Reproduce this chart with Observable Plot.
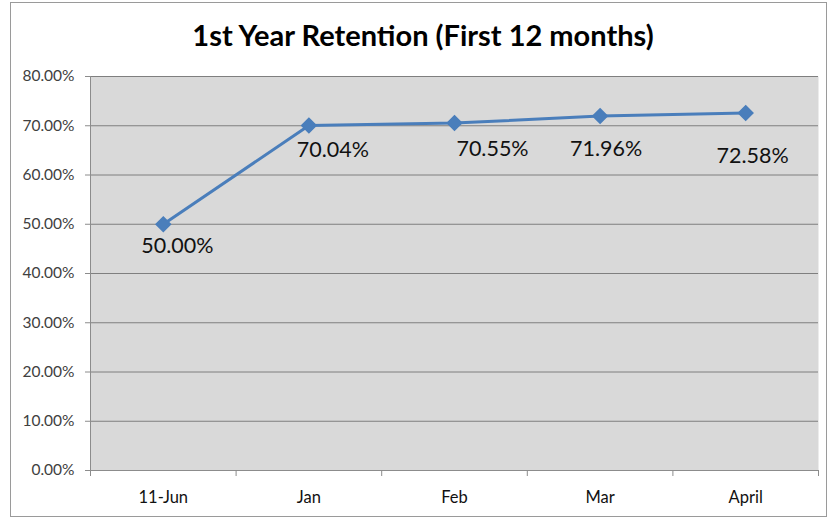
<!DOCTYPE html>
<html>
<head>
<meta charset="utf-8">
<script src="https://cdn.jsdelivr.net/npm/d3@7"></script>
<script src="https://cdn.jsdelivr.net/npm/@observablehq/plot@0.6"></script>
<style>
  body { margin: 0; background: #fff; }
  #wrap { position: relative; width: 830px; height: 520px; overflow: hidden; }
  #frame { position: absolute; left: 10px; top: 2px; width: 817px; height: 515px; border: 1px solid #9a9a9a; box-sizing: border-box; }
  #title { position: absolute; left: 0; width: 846px; top: 17px; text-align: center; font-family: Lato, sans-serif; font-weight: bold; font-size: 29px; color: #000; }
  #chart { position: absolute; left: 0; top: 0; }
</style>
</head>
<body>
<div id="wrap">
  <div id="frame"></div>
  <div id="title">1st Year Retention (First 12 months)</div>
  <div id="chart"></div>
</div>
<script>
const categories = ["11-Jun", "Jan", "Feb", "Mar", "April"];
const retention = [0.5000, 0.7004, 0.7055, 0.7196, 0.7258];
const labels = ["50.00%", "70.04%", "70.55%", "71.96%", "72.58%"];
const yTicks = [0, 0.1, 0.2, 0.3, 0.4, 0.5, 0.6, 0.7, 0.8];

const data = categories.map((c, i) => ({ i, cat: c, value: retention[i], label: labels[i] }));
const n = categories.length;

// label nudges (styling, as placed in the original)
const nudges = [[14, 22], [24, 25], [38, 26], [6, 33], [7, 43]];

const labelMarks = data.map((d, k) =>
  Plot.text([d], {
    x: (d) => d.i + 0.5, y: "value", text: "label",
    dx: nudges[k][0], dy: nudges[k][1],
    fontSize: 21.5, fill: "#111", fontFamily: "Lato, sans-serif"
  })
);

const chart = Plot.plot({
  width: 830,
  height: 520,
  marginTop: 76,
  marginBottom: 50,
  marginLeft: 90,
  marginRight: 12,
  style: { background: "transparent", fontFamily: "Lato, sans-serif", fontSize: "15px", color: "#404040" },
  x: { domain: [0, n], axis: null },
  y: { domain: [0, 0.8], axis: null },
  marks: [
    Plot.frame({ fill: "#d9d9d9", stroke: null }),
    Plot.ruleY(yTicks.filter(t => t > 0), { stroke: "#7f7f7f", strokeWidth: 1 }),
    Plot.axisY(yTicks, { label: null, tickFormat: d3.format(".2%"), tickSize: 5, tickPadding: 11, stroke: "#8c8c8c", fill: "#404040", fontSize: 15.5 }),
    Plot.ruleX([0], { stroke: "#8c8c8c" }),
    Plot.ruleY([0], { stroke: "#8c8c8c" }),
    Plot.axisX(d3.range(n + 1), { label: null, tickFormat: () => "", tickSize: 6, stroke: "#8c8c8c" }),
    Plot.axisX(d3.range(n).map(i => i + 0.5), { label: null, tickFormat: (t) => categories[Math.round(t - 0.5)], tickSize: 0, tickPadding: 21, fill: "#111", fontSize: 16.5 }),
    Plot.line(data, { x: (d) => d.i + 0.5, y: "value", stroke: "#4a7ebb", strokeWidth: 3 }),
    Plot.dot(data, { x: (d) => d.i + 0.5, y: "value", symbol: "diamond2", r: 6.5, fill: "#4a7ebb", stroke: "#4a7ebb" }),
    ...labelMarks
  ]
});
document.getElementById("chart").appendChild(chart);
</script>
</body>
</html>
